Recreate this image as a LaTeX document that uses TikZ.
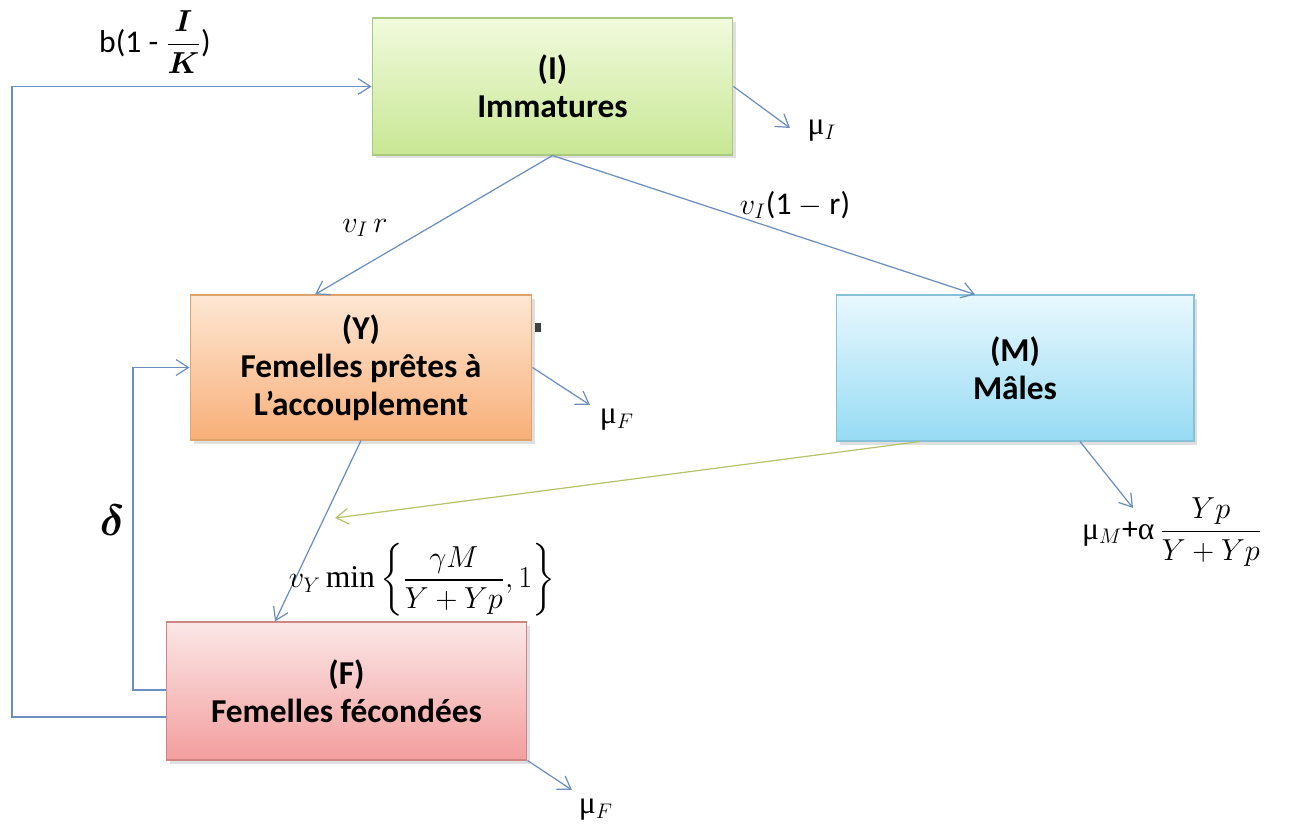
\documentclass[tikz,border=0pt]{standalone}
\usepackage{amsmath}
\usepackage{bm}
\usepackage{fontspec}
\setmainfont{Carlito}
\newfontfamily\grk{Liberation Serif}
\usetikzlibrary{arrows.meta,shadows,calc}
\definecolor{arr}{HTML}{6C8EBF}
\definecolor{olv}{HTML}{B5C46C}
\definecolor{gTop}{HTML}{F1FADD}\definecolor{gBot}{HTML}{C8E794}\definecolor{gBd}{HTML}{A9C97E}
\definecolor{oTop}{HTML}{FDE7D4}\definecolor{oBot}{HTML}{F8AF78}\definecolor{oBd}{HTML}{E2A26E}
\definecolor{bTop}{HTML}{E9F8FD}\definecolor{bBot}{HTML}{96DBF4}\definecolor{bBd}{HTML}{86C1DA}
\definecolor{pTop}{HTML}{FBE7E7}\definecolor{pBot}{HTML}{F39E9E}\definecolor{pBd}{HTML}{D08585}
\begin{document}
\begin{tikzpicture}[x=0.02cm,y=-0.02cm,
  font=\fontsize{18}{21}\selectfont,
  box/.style n args={3}{draw=#3, line width=0.6pt, top color=#1, bottom color=#2,
     align=center, font=\fontsize{19}{21.5}\selectfont\bfseries,
     drop shadow={shadow xshift=2pt, shadow yshift=-2pt, opacity=0.25}},
  flow/.style={draw=arr, line width=0.7pt, -{Straight Barb[length=7pt,width=9pt,line width=0.7pt]}},
  couple/.style={draw=olv, line width=0.7pt, -{Straight Barb[length=7pt,width=9pt,line width=0.7pt]}},
  lab/.style={inner sep=1pt}
]
\useasboundingbox (0,0) rectangle (1292,831);
\fill[white] (0,0) rectangle (1292,831);

% boxes
\node[box={gTop}{gBot}{gBd}, minimum width=7.22cm, minimum height=2.74cm] (I) at (552.5,86.5) {(I)\\Immatures};
\node[box={oTop}{oBot}{oBd}, minimum width=6.84cm, minimum height=2.9cm] (Y) at (361,367.5) {(Y)\\Femelles prêtes à\\L’accouplement};
\node[box={bTop}{bBot}{bBd}, minimum width=7.16cm, minimum height=2.92cm] (M) at (1015,368) {(M)\\Mâles};
\node[box={pTop}{pBot}{pBd}, minimum width=7.22cm, minimum height=2.76cm] (F) at (346.5,691) {(F)\\Femelles fécondées};

% small mark
\fill[black!75] (535,323) rectangle (541,332);

% coordinates
\coordinate (b1) at (12,717);
\coordinate (d1) at (133,690);
\coordinate (muIend) at (790,128);
\coordinate (muYend) at (590,405);
\coordinate (muFend) at (572,790);
\coordinate (muMend) at (1133,508);
\coordinate (olvend) at (335,518);

% connectors
\draw[flow] (F.west |- b1) -- (b1) |- (I.west);
\draw[flow] (F.west |- d1) -- (d1) |- (Y.west);
\draw[flow] (I.east) -- (muIend);
\draw[flow] (I.south) -- ([xshift=-0.92cm]Y.north);
\draw[flow] (I.south) -- ([xshift=-0.8cm]M.north);
\draw[flow] (Y.east) -- (muYend);
\draw[flow] (Y.south) -- ([xshift=-1.43cm]F.north);
\draw[couple] ([xshift=-1.9cm]M.south) -- (olvend);
\draw[flow] ([xshift=1.3cm]M.south) -- (muMend);
\draw[flow] (F.south east) -- (muFend);

% labels
\node[lab] (lb) at (155,42) {b(1 - $\dfrac{\bm{I}}{\bm{K}}$)};
\node[lab, font=\fontsize{24}{26}\selectfont] (ld) at (112,520) {$\bm{\delta}$};
\node[lab] (lmuI) at (822,131) {{\grk μ}$_{I}$};
\node[lab] (lvr) at (365,228) {$v_I\, r$};
\node[lab] (lv1r) at (795,205) {$v_I$(1 $-$ r)};
\node[lab] (lmuY) at (617,420) {{\grk μ}$_{F}$};
\node[lab] (lvy) at (422,580) {$v_Y\, \text{\grk min}\left\{\dfrac{\gamma M}{Y+Yp},1\right\}$};
\node[lab] (lmuM) at (1172,532) {{\grk μ}$_{M}${+}{\grk α}\,$\dfrac{Yp}{Y+Yp}$};
\node[lab] (lmuF) at (596,810) {{\grk μ}$_{F}$};
\end{tikzpicture}
\end{document}
